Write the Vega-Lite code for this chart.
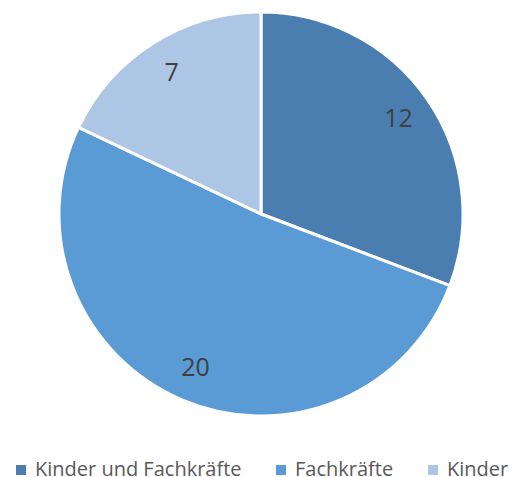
{
  "$schema": "https://vega.github.io/schema/vega-lite/v6.json",
  "width": 502,
  "height": 428,
  "padding": {"left": 10, "top": 0, "right": 0, "bottom": 0},
  "background": "white",
  "view": {"stroke": null},
  "data": {"values": [
    {"category": "Kinder und Fachkräfte", "value": 12, "order": 1},
    {"category": "Fachkräfte", "value": 20, "order": 2},
    {"category": "Kinder", "value": 7, "order": 3}
  ]},
  "encoding": {
    "theta": {"field": "value", "type": "quantitative", "stack": true},
    "order": {"field": "order", "type": "quantitative"},
    "color": {
      "field": "category", "type": "nominal",
      "sort": ["Kinder und Fachkräfte", "Fachkräfte", "Kinder"],
      "scale": {"domain": ["Kinder und Fachkräfte", "Fachkräfte", "Kinder"], "range": ["#4a7eb0", "#5b9bd5", "#adc6e6"]},
      "legend": {
        "title": null, "orient": "none", "legendX": 1, "legendY": 460, "direction": "horizontal",
        "symbolType": "square", "symbolSize": 100, "symbolStrokeWidth": 0,
        "labelFont": "Open Sans", "labelFontSize": 20, "labelColor": "#595959", "labelLimit": 0,
        "columnPadding": 29, "labelOffset": 4
      }
    }
  },
  "layer": [
    {"mark": {"type": "arc", "outerRadius": 202, "stroke": "white", "strokeWidth": 3}},
    {"mark": {"type": "text", "radius": 167, "fontSize": 25, "font": "Open Sans", "color": "#404040"},
     "encoding": {"text": {"field": "value", "type": "quantitative"}, "color": {"value": "#404040"}}}
  ]
}
